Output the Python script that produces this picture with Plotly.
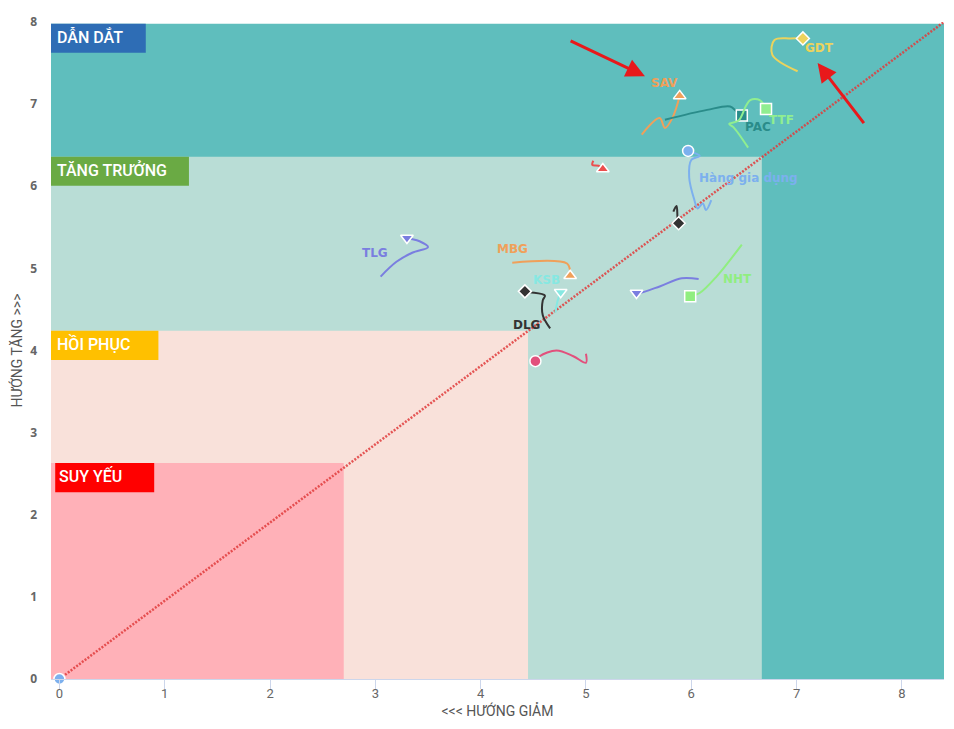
import plotly.graph_objects as go

# ---------------- data ----------------
names = ["SAV", "PAC", "TTF", "GDT", "Hàng gia dụng", "RED1", "BLK1", "TLG",
         "MBG", "KSB", "DLG", "PNK1", "NHT", "VIO1", "ORIGIN"]
show_label = [True, True, True, True, True, False, False, True,
              True, True, True, False, True, False, False]
colors = ["#f0a05a", "#2a8c8a", "#90ee90", "#ecd35c", "#7cb0ee", "#ec4e4e", "#333333",
          "#7a7ee0", "#f0a05a", "#86e8e2", "#333333", "#e2507c", "#90ee80", "#7a7ee0", "#7cb0ee"]
symbols = ["triangle-up", "square", "square", "diamond", "circle", "triangle-up", "diamond",
           "triangle-down", "triangle-up", "triangle-down", "diamond", "circle", "square",
           "triangle-down", "circle"]

sav_x = [5.53, 5.70, 5.75, 5.82, 5.89]
sav_y = [6.63, 6.83, 6.71, 6.83, 7.10]
pac_x = [5.75, 6.15, 6.37, 6.43, 6.48]
pac_y = [6.81, 6.93, 6.97, 6.91, 6.86]
ttf_x = [6.54, 6.40, 6.36, 6.45, 6.52, 6.56, 6.65, 6.71]
ttf_y = [6.47, 6.72, 6.76, 6.80, 6.98, 7.05, 7.05, 6.94]
gdt_x = [7.01, 6.77, 6.79, 6.94, 7.06]
gdt_y = [7.40, 7.60, 7.78, 7.80, 7.80]
hgd_x = [6.19, 6.14, 6.11, 6.06, 6.03, 5.98, 6.00, 6.08, 5.97]
hgd_y = [5.83, 5.71, 5.79, 5.73, 5.83, 6.11, 6.32, 6.37, 6.43]
red1_x = [5.07, 5.06, 5.12, 5.16]
red1_y = [6.31, 6.26, 6.25, 6.21]
blk1_x = [5.83, 5.86, 5.87, 5.88]
blk1_y = [5.69, 5.76, 5.61, 5.55]
tlg_x = [3.05, 3.20, 3.35, 3.50, 3.42, 3.33, 3.30]
tlg_y = [4.90, 5.08, 5.19, 5.26, 5.33, 5.36, 5.37]
mbg_x = [4.30, 4.82, 4.85, 4.85]
mbg_y = [5.07, 5.06, 4.96, 4.91]
ksb_x = [4.71, 4.73, 4.76]
ksb_y = [4.46, 4.60, 4.71]
dlg_x = [4.66, 4.59, 4.59, 4.61, 4.47, 4.42]
dlg_y = [4.27, 4.43, 4.61, 4.67, 4.71, 4.72]
pnk1_x = [5.00, 5.00, 4.88, 4.72, 4.56, 4.52]
pnk1_y = [3.96, 3.85, 3.93, 4.00, 3.93, 3.87]
nht_x = [6.48, 6.24, 6.08, 5.99]
nht_y = [5.29, 4.90, 4.70, 4.66]
vio1_x = [6.07, 5.91, 5.70, 5.51, 5.48]
vio1_y = [4.87, 4.88, 4.78, 4.70, 4.70]
origin_x = [0.0]
origin_y = [0.0]

series_x = [sav_x, pac_x, ttf_x, gdt_x, hgd_x, red1_x, blk1_x, tlg_x, mbg_x, ksb_x,
            dlg_x, pnk1_x, nht_x, vio1_x, origin_x]
series_y = [sav_y, pac_y, ttf_y, gdt_y, hgd_y, red1_y, blk1_y, tlg_y, mbg_y, ksb_y,
            dlg_y, pnk1_y, nht_y, vio1_y, origin_y]
# label offsets (pixels) relative to the last point
label_dx = [-15, 16, 15, 17, 9, 0, 0, -32, -58, -14, 2, 0, 47, 0, 0]
label_dy = [13, -11, -11, -10, -27, 0, 0, -15, 27, 12, -34, 0, 17, 0, 0]
label_anchor = ["center", "center", "center", "center", "left", "center", "center", "center",
                "center", "center", "center", "center", "center", "center", "center"]

# quadrant zones
zone_names = ["SUY YẾU", "HỒI PHỤC", "TĂNG TRƯỞNG", "DẪN DẮT"]
zone_colors = ["#ffb1b8", "#f9e1da", "#b9ddd6", "#5fbebd"]
zone_x_max = [2.70, 4.45, 6.67, 8.40]
zone_y_max = [2.63, 4.24, 6.36, 7.98]
badge_colors = ["#ff0000", "#ffc000", "#6aaa44", "#2e6db5"]
badge_x = [[-0.04, 0.90], [-0.08, 0.94], [-0.08, 1.23], [-0.08, 0.82]]

x_range = [-0.08, 8.40]
y_range = [0, 8]
diag_x = [0, 8.40]
diag_y = [0, 8.0]

# red arrows: (tail_x, tail_y, head_x, head_y)
arrows = [(4.84, 7.78, 5.56, 7.34), (7.65, 6.75, 7.20, 7.50)]

# ---------------- figure ----------------
fig = go.Figure()

shapes = []
for i in reversed(range(len(zone_names))):
    shapes.append(dict(type="rect", xref="x", yref="y", layer="below",
                       x0=x_range[0], x1=zone_x_max[i], y0=0, y1=zone_y_max[i],
                       fillcolor=zone_colors[i], line=dict(width=0)))
annotations = []
for i in range(len(zone_names)):
    shapes.append(dict(type="rect", xref="x", yref="y", layer="below",
                       x0=badge_x[i][0], x1=badge_x[i][1],
                       y0=zone_y_max[i] - 0.355, y1=zone_y_max[i],
                       fillcolor=badge_colors[i], line=dict(width=0)))
    annotations.append(dict(x=badge_x[i][0], y=zone_y_max[i] - 0.16, xref="x", yref="y",
                            text=zone_names[i], showarrow=False, xanchor="left",
                            xshift=4 if i else 2, yanchor="middle",
                            font=dict(family="Roboto, sans-serif", size=16,
                                      color="white", weight=500)))

fig.add_trace(go.Scatter(x=diag_x, y=diag_y, mode="lines", hoverinfo="skip",
                         line=dict(color="rgba(225,60,60,0.85)", width=2.5,
                                   dash="2px,1.5px"),
                         showlegend=False))

for i, nm in enumerate(names):
    xs, ys = series_x[i], series_y[i]
    if len(xs) > 1:
        fig.add_trace(go.Scatter(x=xs, y=ys, mode="lines", showlegend=False,
                                 line=dict(color=colors[i], width=2, shape="spline",
                                           smoothing=1.0), hoverinfo="skip"))
    msize = 10 if symbols[i] == "diamond" else 11
    fig.add_trace(go.Scatter(x=[xs[-1]], y=[ys[-1]], mode="markers", showlegend=False,
                             name=nm, cliponaxis=False,
                             marker=dict(symbol=symbols[i], size=msize, color=colors[i],
                                         line=dict(color="white", width=1.5))))
    if show_label[i]:
        annotations.append(dict(x=xs[-1], y=ys[-1], xref="x", yref="y",
                                text="<b>" + nm + "</b>",
                                showarrow=False, xshift=label_dx[i], yshift=label_dy[i],
                                xanchor=label_anchor[i],
                                font=dict(family="DejaVu Sans, sans-serif", size=12,
                                          color=colors[i])))

for tx, ty, hx, hy in arrows:
    annotations.append(dict(x=hx, y=hy, ax=tx, ay=ty, xref="x", yref="y",
                            axref="x", ayref="y", text="", showarrow=True,
                            arrowhead=2, arrowsize=1.25, arrowwidth=3,
                            arrowcolor="#e8191b"))

# the page body has an 8px margin; shrink the figure so the plot area lands
# where the reference has it
fig.update_layout(
    width=946, height=721,
    margin=dict(l=43, r=10, t=14, b=50),
    paper_bgcolor="white", plot_bgcolor="white",
    shapes=shapes, annotations=annotations,
    xaxis=dict(range=x_range, tickmode="array", tickvals=list(range(0, 9)),
               automargin=False,
               showgrid=False, zeroline=False, showline=True, linecolor="#ccd6eb",
               ticks="outside", ticklen=2, tickcolor="#ccd6eb",
               minor=dict(ticks="outside", ticklen=9, tickcolor="#ccd6eb",
                          tickmode="array", tickvals=list(range(0, 9))),
               tickfont=dict(family="Roboto, sans-serif", size=13, color="#666666"),
               title=dict(text="<<< HƯỚNG GIẢM", standoff=6,
                          font=dict(family="Roboto, sans-serif", size=14,
                                    color="#555555"))),
    yaxis=dict(range=y_range, tickmode="array", tickvals=list(range(0, 9)),
               automargin=False,
               showgrid=False, zeroline=False, showline=False, ticks="",
               ticklabelstandoff=13,
               tickfont=dict(family="Open Sans, sans-serif", size=12, color="#666666",
                             weight="bold"),
               title=dict(text="HƯỚNG TĂNG >>>", standoff=12,
                          font=dict(family="Roboto, sans-serif", size=14,
                                    color="#555555"))),
)

fig.write_html("out.html")
